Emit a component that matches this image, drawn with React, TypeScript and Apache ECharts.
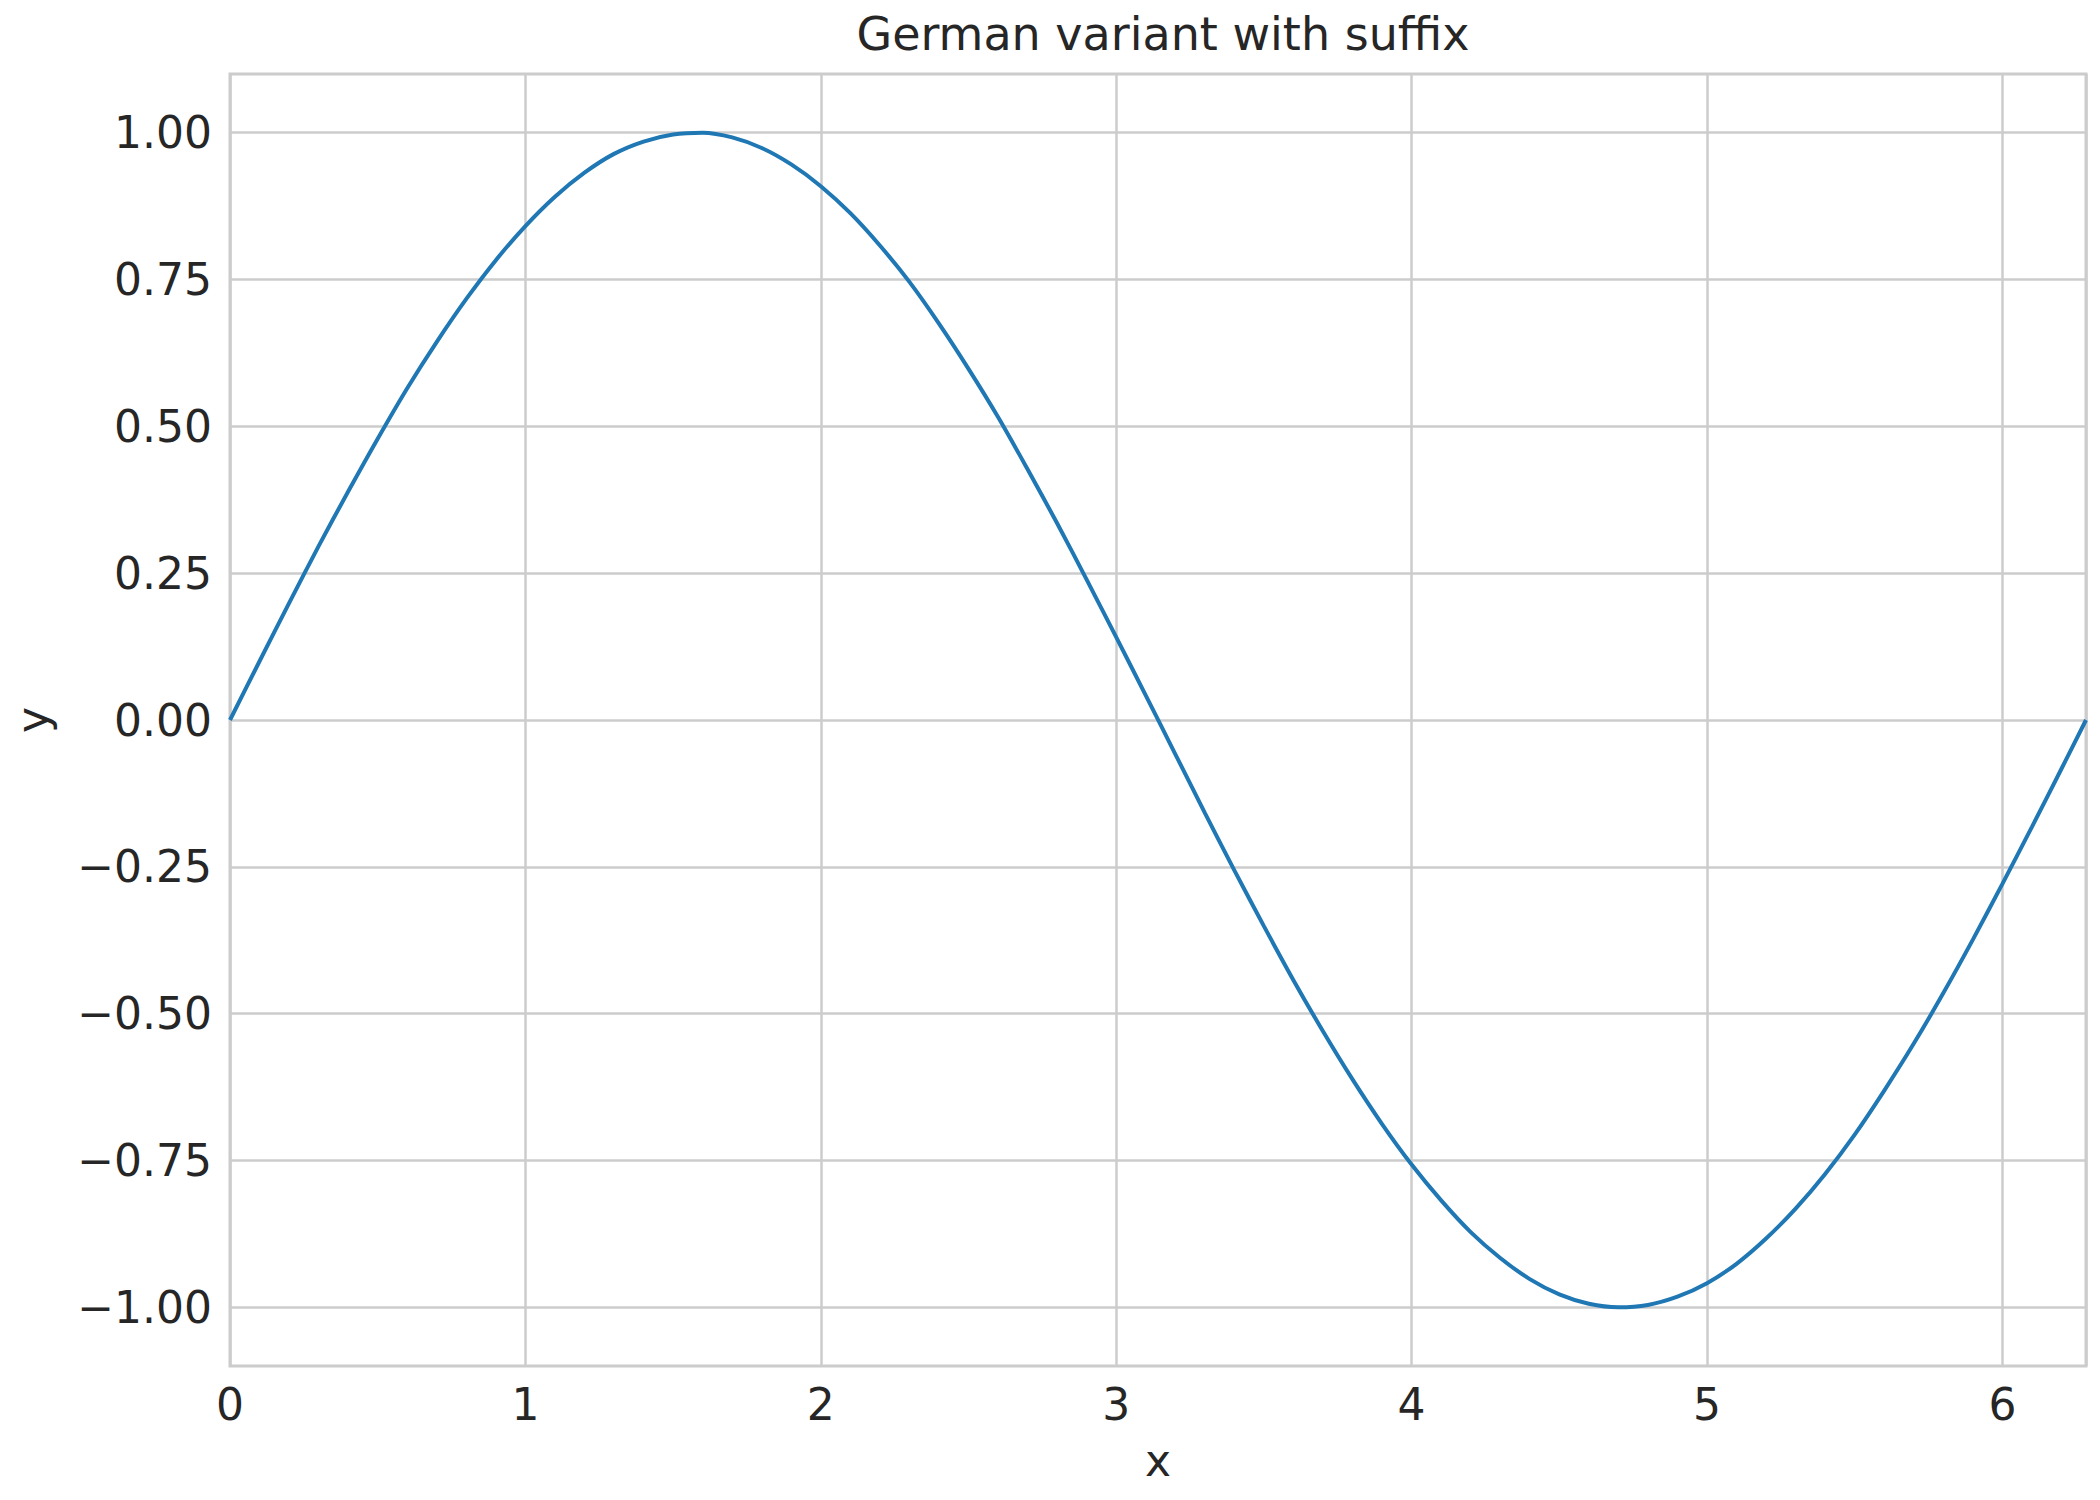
import { useEffect, useRef } from 'react'
import * as echarts from 'echarts'

// values
const xValues = [
  0, 0.1, 0.2, 0.3, 0.4, 0.5, 0.6, 0.7, 0.8, 0.9, 1.0, 1.1, 1.2, 1.3, 1.4, 1.5, 1.6, 1.7,
  1.8, 1.9, 2.0, 2.1, 2.2, 2.3, 2.4, 2.5, 2.6, 2.7, 2.8, 2.9, 3.0, 3.1, 3.2, 3.3, 3.4,
  3.5, 3.6, 3.7, 3.8, 3.9, 4.0, 4.1, 4.2, 4.3, 4.4, 4.5, 4.6, 4.7, 4.8, 4.9, 5.0, 5.1,
  5.2, 5.3, 5.4, 5.5, 5.6, 5.7, 5.8, 5.9, 6.0, 6.1, 6.2, 6.283,
]
const yValues = [
  0, 0.1, 0.199, 0.296, 0.389, 0.479, 0.565, 0.644, 0.717, 0.783, 0.841, 0.891, 0.932,
  0.964, 0.985, 0.997, 1.0, 0.992, 0.974, 0.946, 0.909, 0.863, 0.808, 0.746, 0.675, 0.598,
  0.516, 0.427, 0.335, 0.239, 0.141, 0.042, -0.058, -0.158, -0.256, -0.351, -0.443, -0.53,
  -0.612, -0.688, -0.757, -0.818, -0.872, -0.916, -0.952, -0.978, -0.994, -1.0, -0.996,
  -0.982, -0.959, -0.926, -0.883, -0.832, -0.773, -0.706, -0.631, -0.551, -0.465, -0.374,
  -0.279, -0.182, -0.083, 0,
]
const yTicks = [-1.0, -0.75, -0.5, -0.25, 0, 0.25, 0.5, 0.75, 1.0]

const FONT = 'DejaVu Sans, sans-serif'
const TEXT = '#262626'
const GRID = '#cccccc'

export default function App() {
  const chartRef = useRef<HTMLDivElement>(null)

  useEffect(() => {
    if (!chartRef.current) return
    document.body.style.margin = '0'

    const chart = echarts.init(chartRef.current, null, { renderer: 'svg' })

    const fmtY = (v: number) => (v < 0 ? '\u2212' : '') + Math.abs(v).toFixed(2)

    const option: echarts.EChartsOption = {
      animation: false,
      backgroundColor: '#ffffff',
      title: {
        text: 'German variant with suffix',
        left: 1158,
        textAlign: 'center',
        top: 6,
        textStyle: { color: TEXT, fontSize: 46, fontWeight: 'normal', fontFamily: FONT },
      },
      grid: {
        left: 230,
        right: 14,
        top: 74,
        bottom: 134,
        show: true,
        borderColor: GRID,
        borderWidth: 3,
      },
      xAxis: {
        type: 'value',
        min: 0,
        max: 6.283,
        interval: 1,
        name: 'x',
        nameLocation: 'middle',
        nameGap: 72,
        nameTextStyle: { color: TEXT, fontSize: 44, fontFamily: FONT },
        axisLine: { show: false },
        axisTick: { show: false },
        axisLabel: {
          color: TEXT,
          fontSize: 44,
          fontFamily: FONT,
          margin: 16,
          showMaxLabel: false,
          formatter: (v: number) => (Number.isInteger(v) ? String(v) : ''),
        },
        splitLine: { show: true, lineStyle: { color: GRID, width: 2.5 } },
      },
      yAxis: {
        type: 'value',
        min: -1.1,
        max: 1.1,
        name: 'y',
        nameLocation: 'middle',
        nameGap: 176,
        nameTextStyle: { color: TEXT, fontSize: 44, fontFamily: FONT },
        axisLine: { show: false },
        axisTick: { show: false, customValues: yTicks },
        axisLabel: {
          color: TEXT,
          fontSize: 44,
          fontFamily: FONT,
          margin: 18,
          customValues: yTicks,
          formatter: (v: number) => fmtY(v),
        },
        splitLine: { show: true, lineStyle: { color: GRID, width: 2.5 } },
      },
      series: [
        {
          type: 'line',
          data: xValues.map((x, i) => [x, yValues[i]]),
          showSymbol: false,
          smooth: 0.3,
          lineStyle: { color: '#1f77b4', width: 4 },
          itemStyle: { color: '#1f77b4' },
        },
      ],
    }

    chart.setOption(option)

    return () => {
      chart.dispose()
    }
  }, [])

  return <div ref={chartRef} style={{ width: '2100px', height: '1500px' }} />
}
